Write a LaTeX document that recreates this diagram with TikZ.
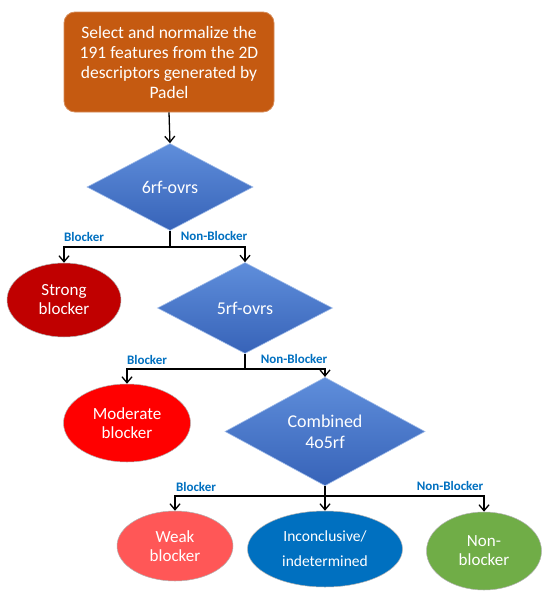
\documentclass[tikz,border=0pt]{standalone}
\usepackage{fontspec}
\setmainfont{Carlito}
\usetikzlibrary{shapes.geometric,arrows.meta}
\definecolor{boxorange}{HTML}{C55A11}
\definecolor{dtop}{HTML}{5F8EDB}
\definecolor{dbot}{HTML}{3763B8}
\definecolor{strongred}{HTML}{C00000}
\definecolor{modred}{HTML}{FF0000}
\definecolor{weakred}{HTML}{FF5757}
\definecolor{inconblue}{HTML}{0070C0}
\definecolor{nongreen}{HTML}{70AD47}
\definecolor{lblblue}{HTML}{0070C0}
\tikzset{
  stepbox/.style={rectangle, rounded corners=11pt, fill=boxorange, draw=boxorange!70!white, line width=0.8pt, text=white, align=center, font=\fontsize{17.5}{20}\selectfont, inner sep=0pt},
  decision/.style={diamond, top color=dtop, bottom color=dbot, draw=dtop!60!white, line width=0.6pt, text=white, align=center, inner sep=0pt, font=\fontsize{18}{21}\selectfont},
  outcome/.style={ellipse, draw=white!70!black, line width=0.5pt, text=white, align=center, inner sep=0pt, font=\fontsize{17}{19}\selectfont},
  conn/.style={line width=1.3pt, black},
  arr/.style={conn, -{Straight Barb[length=6pt, width=10pt, line width=1.3pt]}},
  lbl/.style={text=lblblue, font=\bfseries\fontsize{13}{15}\selectfont, inner sep=0pt}
}
\begin{document}
\begin{tikzpicture}[x=1pt,y=1pt]
\useasboundingbox[fill=white] (0,0) rectangle (548,-597);
% nodes
\node[stepbox, minimum width=210pt, minimum height=100pt] (top) at (169,-62)
  {Select and normalize the\\191 features from the 2D\\descriptors generated by\\Padel};
\node[decision, minimum width=166pt, minimum height=87pt] (d1) at (170,-187) {6rf-ovrs};
\node[outcome, fill=strongred, minimum width=114pt, minimum height=74pt] (strong) at (64,-300) {Strong\\blocker};
\node[decision, minimum width=175pt, minimum height=91pt] (d2) at (245,-308) {5rf-ovrs};
\node[outcome, fill=modred, minimum width=127pt, minimum height=78pt] (mod) at (127,-423) {Moderate\\blocker};
\node[decision, minimum width=200pt, minimum height=95pt] (d3) at (325,-431.5) {Combined\\4o5rf};
\node[outcome, fill=weakred, minimum width=116pt, minimum height=70pt] (weak) at (175,-546) {Weak\\blocker};
\node[outcome, fill=inconblue, minimum width=155pt, minimum height=76pt, font=\fontsize{15.5}{25}\selectfont] (incon) at (325,-549) {Inconclusive/\\indetermined};
\node[outcome, fill=nongreen, minimum width=115pt, minimum height=78pt] (non) at (484,-551) {Non-\\blocker};
% branch points
\coordinate (b1) at (170,-247);
\coordinate (b2) at (245,-369);
\coordinate (b3) at (325,-496);
% connectors
\draw[arr] (top.south) -- (d1.north);
\draw[conn] (d1.south) -- (b1);
\draw[arr] (b1) -| (strong.north);
\draw[arr] (b1) -| (d2.north);
\draw[conn] (d2.south) -- (b2);
\draw[arr] (b2) -| (mod.north);
\draw[arr] (b2) -| (d3.north);
\draw[conn] (d3.south) -- (b3);
\draw[arr] (b3) -| (weak.north);
\draw[arr] (b3) -- (incon.north);
\draw[arr] (b3) -| (non.north);
% labels
\node[lbl] (l1) at (84,-237) {Blocker};
\node[lbl] (l2) at (214,-236) {Non-Blocker};
\node[lbl] (l3) at (147,-360) {Blocker};
\node[lbl] (l4) at (294,-359) {Non-Blocker};
\node[lbl] (l5) at (196,-487) {Blocker};
\node[lbl] (l6) at (450,-486) {Non-Blocker};
\end{tikzpicture}
\end{document}
